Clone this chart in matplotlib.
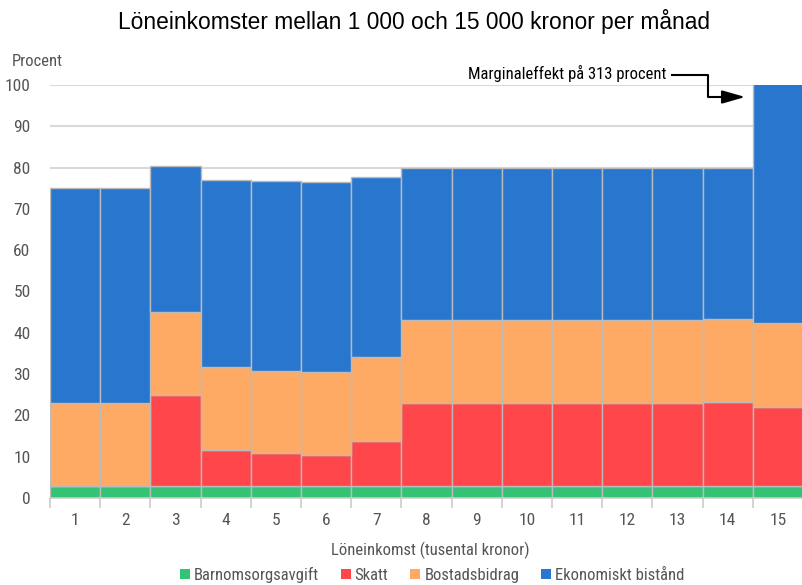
import matplotlib
matplotlib.use("Agg")
import matplotlib.pyplot as plt
import numpy as np

plt.rcParams['font.family'] = ['Roboto Condensed', 'DejaVu Sans']

# Löneinkomst i tusental kronor
inkomst = [str(i) for i in range(1, 16)]

barnomsorg = [2.8] * 15
skatt_topp = [2.8, 2.8, 25.0, 11.6, 10.8, 10.5, 13.9, 23.1, 23.1, 23.1, 23.1, 23.1, 23.1, 23.2, 22.1]
bostad_topp = [23.0, 23.0, 45.0, 31.7, 30.8, 30.6, 34.1, 43.2, 43.2, 43.2, 43.2, 43.2, 43.2, 43.3, 42.3]
bistand_topp = [75.0, 75.0, 80.3, 76.9, 76.7, 76.5, 77.8, 80.0, 80.0, 80.0, 80.0, 80.0, 80.0, 80.0, 313.0]

skatt = np.array(skatt_topp) - np.array(barnomsorg)
bostad = np.array(bostad_topp) - np.array(skatt_topp)
bistand = np.array(bistand_topp) - np.array(bostad_topp)

serier = ["Barnomsorgsavgift", "Skatt", "Bostadsbidrag", "Ekonomiskt bistånd"]
farger = ["#34C274", "#FF464A", "#FEAA65", "#2976CF"]

W, H = 803, 585
fig = plt.figure(figsize=(W / 100, H / 100), dpi=100)
ax = fig.add_axes([50 / W, 1 - 498 / H, 753 / W, 413 / H])

x = np.arange(len(inkomst))
botten = np.zeros(len(inkomst))
for namn, varden, farg in zip(serier, [barnomsorg, skatt, bostad, bistand], farger):
    ax.bar(x, varden, bottom=botten, width=1.0, color=farg, edgecolor="#BBBBBB",
           linewidth=1, label=namn, zorder=2)
    botten = botten + np.array(varden)

ax.set_xlim(-0.5, len(inkomst) - 0.5)
ax.set_ylim(0, 100)
ax.set_yticks(range(0, 101, 10))
ax.grid(axis="y", color="#D9D9D9", linewidth=1.5, zorder=0)
ax.set_axisbelow(True)

ax.set_xticks(x)
ax.set_xticklabels(inkomst)
ax.set_xticks(np.arange(-0.5, len(inkomst)), minor=True)
ax.tick_params(axis="x", which="major", length=0, pad=11, labelsize=12.5, labelcolor="#555555")
ax.tick_params(axis="x", which="minor", length=7, color="#CCCCCC", width=1.2)
ax.tick_params(axis="y", length=0, pad=14, labelsize=12.5, labelcolor="#555555")

for s in ["top", "right", "left"]:
    ax.spines[s].set_visible(False)
ax.spines["bottom"].set_color("#CCCCCC")
ax.spines["bottom"].set_linewidth(1.2)

fig.text(430 / W, 1 - 550 / H, "Löneinkomst (tusental kronor)", fontsize=12, color="#555555",
         ha="center", va="center")
fig.text(12 / W, 1 - 61 / H, "Procent", fontsize=12, color="#555555", va="center", ha="left")

fig.text(414 / W, 1 - 21 / H, "Löneinkomster mellan 1 000 och 15 000 kronor per månad",
         fontsize=16.4, family=["Liberation Sans", "DejaVu Sans"], ha="center", va="center")


# pixelkoordinater (uppifrån) -> figurkoordinater
def px(xp, yp):
    return (xp / W, 1 - yp / H)


# Annotering för stapel 15
fig.text(*px(666, 73), "Marginaleffekt på 313 procent", fontsize=12, ha="right", va="center")
linje = np.array([px(672, 75), px(708, 75), px(708, 97), px(735, 97)])
fig.add_artist(plt.Line2D(linje[:, 0], linje[:, 1], color="black", lw=1.5,
                          transform=fig.transFigure))
fig.add_artist(matplotlib.patches.FancyArrowPatch(px(730, 97), px(748, 97),
                                                  arrowstyle="-|>,head_width=4,head_length=14",
                                                  color="black", lw=1.5, mutation_scale=1,
                                                  transform=fig.transFigure))

leg = fig.legend(loc="center", bbox_to_anchor=px(432, 575), ncol=4, frameon=False,
                 fontsize=12, handlelength=0.6, handleheight=0.6, handletextpad=0.25,
                 columnspacing=1.3, labelcolor="#555555", borderaxespad=0, borderpad=0)
for h in leg.legend_handles:
    h.set_edgecolor("none")

fig.savefig("out.png", dpi=100)
